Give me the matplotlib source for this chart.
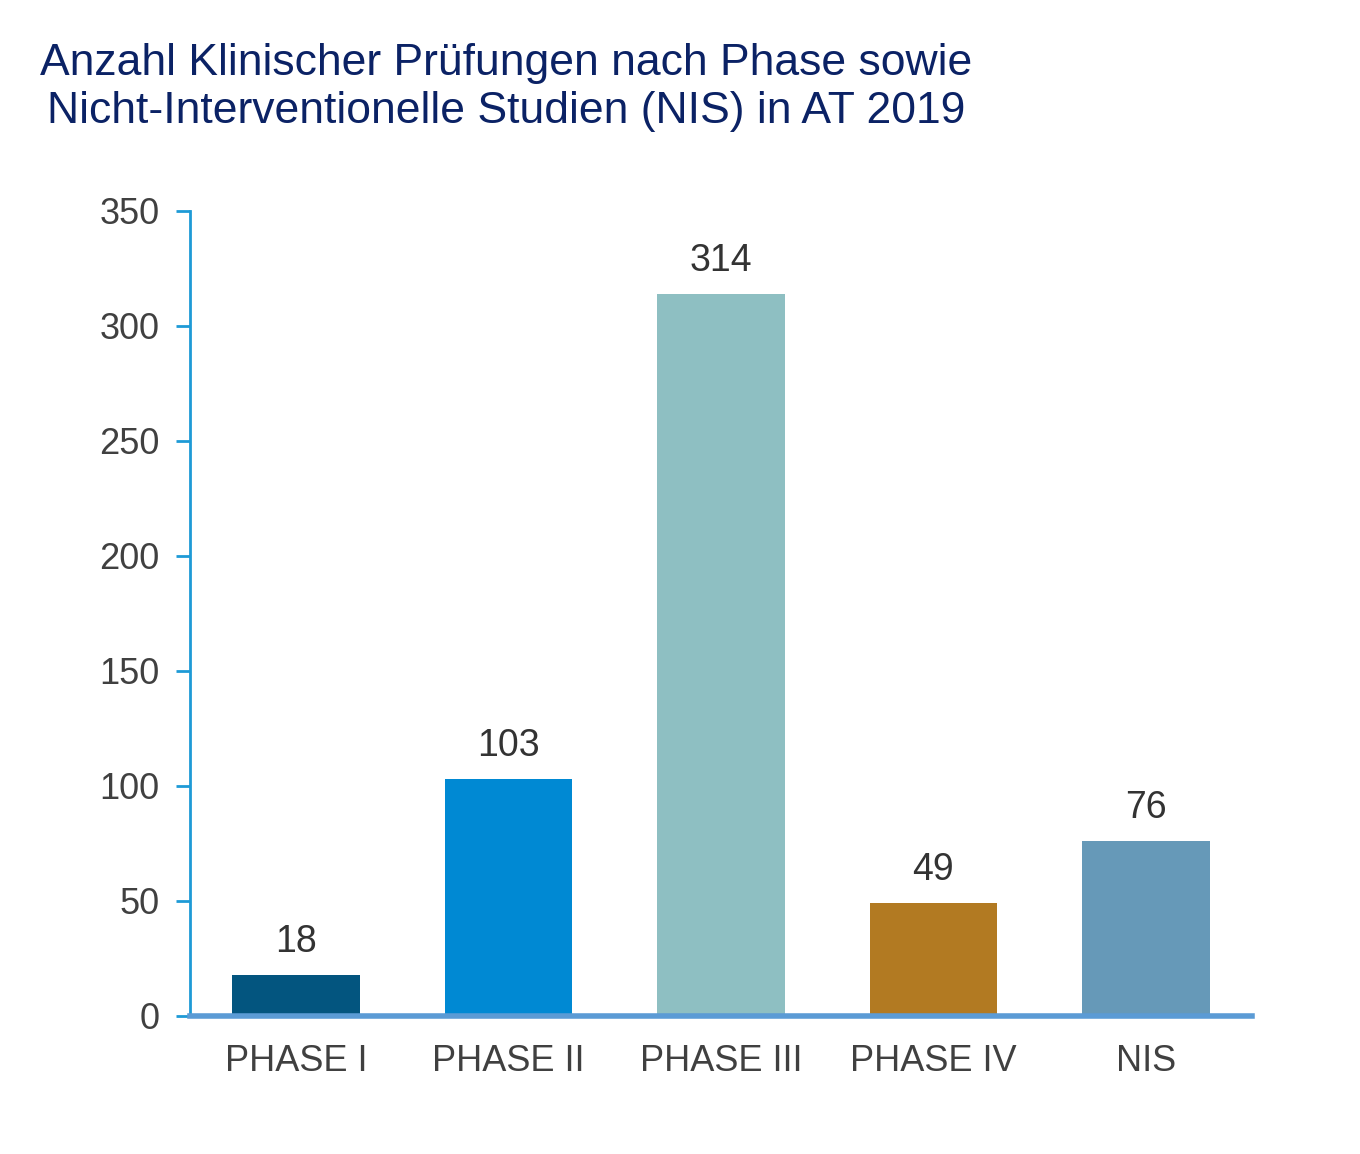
import matplotlib.pyplot as plt

categories = ['PHASE I', 'PHASE II', 'PHASE III', 'PHASE IV', 'NIS']
values = [18, 103, 314, 49, 76]
colors = ['#03557F', '#0089D3', '#8EBFC2', '#B27A22', '#6699B8']
yticks = [0, 50, 100, 150, 200, 250, 300, 350]

plt.rcParams['font.family'] = ['Liberation Sans', 'DejaVu Sans']

fig = plt.figure(figsize=(13.6, 11.54), dpi=100)
ax = fig.add_axes([0.1397, 0.1196, 0.7809, 0.6976])

x = range(len(categories))
bars = ax.bar(x, values, width=0.6, color=colors, zorder=2)
for b, v in zip(bars, values):
    ax.text(b.get_x() + b.get_width() / 2, v + 6.5, str(v), ha='center', va='bottom',
            fontsize=27, color='#333333')

ax.set_xlim(-0.5, 4.5)
ax.set_ylim(0, 350)
ax.set_yticks(yticks)
ax.set_xticks(list(x))
ax.set_xticklabels(categories)
ax.tick_params(axis='y', labelsize=26, labelcolor='#404040', color='#1E9AD6',
               length=10, width=2, pad=12)
ax.tick_params(axis='x', labelsize=26, labelcolor='#404040', length=0, pad=20)

for s in ['top', 'right']:
    ax.spines[s].set_visible(False)
ax.spines['left'].set_color('#1E9AD6')
ax.spines['left'].set_linewidth(2)
ax.spines['bottom'].set_color('#5B9BD5')
ax.spines['bottom'].set_linewidth(4)
ax.spines['bottom'].set_zorder(3)

fig.text(0.372, 0.963, 'Anzahl Klinischer Prüfungen nach Phase sowie\nNicht-Interventionelle Studien (NIS) in AT 2019',
         ha='center', va='top', fontsize=32, color='#0B2265', linespacing=1.22)

fig.savefig('out.png', dpi=100, facecolor='white')
